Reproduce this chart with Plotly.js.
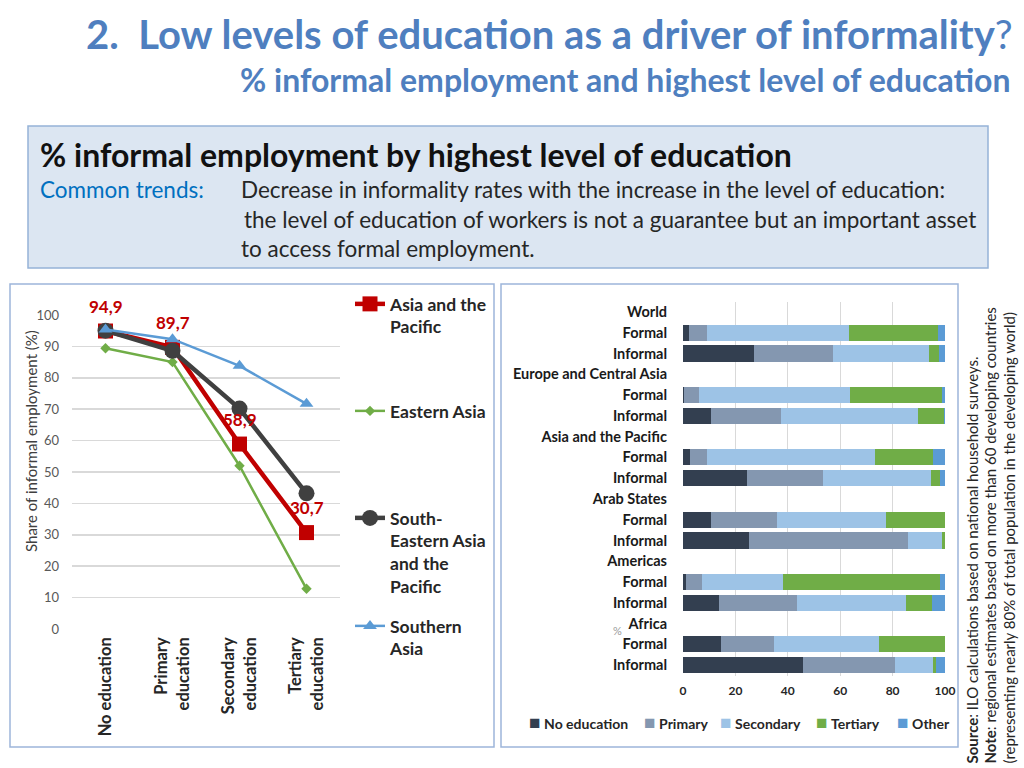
<!DOCTYPE html>
<html>
<head>
<meta charset="utf-8">
<script src="https://cdn.plot.ly/plotly-3.0.1.min.js"></script>
<style>
  body { margin: 0; background: #fff; }
  #slide { width: 1024px; height: 768px; }
</style>
</head>
<body>
<div id="slide"></div>
<script>
// left chart: share of informal employment by education level
var eduLevels = ['No education', 'Primary<br>education', 'Secondary<br>education', 'Tertiary<br>education'];
var asiaPacific = [94.9, 89.7, 58.9, 30.7];
var easternAsia = [89.4, 85.0, 52.0, 12.8];
var southEasternAsia = [95.0, 88.6, 70.2, 43.2];
var southernAsia = [95.4, 92.3, 83.8, 71.7];

// right chart: distribution of workers by education, formal vs informal
var rowLabels = ['World', 'Formal', 'Informal',
  'Europe and Central Asia', 'Formal', 'Informal',
  'Asia and the Pacific', 'Formal', 'Informal',
  'Arab States', 'Formal', 'Informal',
  'Americas', 'Formal', 'Informal',
  'Africa', 'Formal', 'Informal'];
var noEducation = [null, 2.2, 27.2, null, 0.2, 10.8, null, 2.7, 24.4, null, 10.7, 25.2, null, 1.1, 13.7, null, 14.4, 45.8];
var primary     = [null, 6.8, 29.9, null, 5.9, 26.5, null, 6.3, 28.9, null, 25.3, 60.8, null, 6.3, 29.7, null, 20.5, 35.1];
var secondary   = [null, 54.4, 36.8, null, 57.6, 52.3, null, 64.4, 41.4, null, 41.4, 12.9, null, 30.8, 41.6, null, 40.0, 14.6];
var tertiary    = [null, 33.8, 3.8, null, 35.0, 10.0, null, 22.1, 3.4, null, 22.6, 1.1, null, 59.9, 10.2, null, 25.1, 1.1];
var other       = [null, 2.8, 2.3, null, 1.3, 0.4, null, 4.5, 1.9, null, 0, 0, null, 1.9, 4.8, null, 0, 3.4];
var rowIndex = rowLabels.map(function (_, i) { return i; });

var FONT = 'Lato, "Open Sans", sans-serif';
var W = 1024, H = 768;
function px(x) { return x / W; }
function py(y) { return 1 - y / H; }

var lineTraces = [
  {name: 'Asia and the<br>Pacific', y: asiaPacific, color: '#C00000', width: 4.5,
   marker: {symbol: 'square', size: 15}, legend: 'legend'},
  {name: 'Eastern Asia', y: easternAsia, color: '#70AD47', width: 2.5,
   marker: {symbol: 'diamond', size: 8}, legend: 'legend2'},
  {name: 'South-<br>Eastern Asia<br>and the<br>Pacific', y: southEasternAsia, color: '#404040', width: 4.5,
   marker: {symbol: 'circle', size: 16}, legend: 'legend3'},
  {name: 'Southern<br>Asia', y: southernAsia, color: '#5B9BD5', width: 2.5,
   marker: {symbol: 'triangle-up', size: 12}, legend: 'legend4'}
].map(function (s) {
  return {
    type: 'scatter', mode: 'lines+markers', x: eduLevels, y: s.y, name: s.name,
    line: {color: s.color, width: s.width},
    marker: Object.assign({color: s.color}, s.marker),
    cliponaxis: false, xaxis: 'x', yaxis: 'y', legend: s.legend
  };
});

var barSeries = [
  ['No education', noEducation, '#333F50'],
  ['Primary', primary, '#8497B0'],
  ['Secondary', secondary, '#9DC3E6'],
  ['Tertiary', tertiary, '#70AD47'],
  ['Other', other, '#5B9BD5']
];
var barTraces = barSeries.map(function (s) {
  return {
    type: 'bar', orientation: 'h', name: s[0], x: s[1], y: rowIndex,
    marker: {color: s[2]}, xaxis: 'x2', yaxis: 'y2', showlegend: false
  };
});

var legendBase = {
  xanchor: 'left', yanchor: 'top', bgcolor: 'rgba(0,0,0,0)', borderwidth: 0,
  valign: 'top', itemwidth: 30, itemclick: false, itemdoubleclick: false,
  font: {family: FONT, size: 17.5, color: '#262626', weight: 'bold'}
};
function legendAt(y) { return Object.assign({}, legendBase, {x: px(350), y: py(y)}); }

var annotations = [];
function note(x, y, text, opts) {
  annotations.push(Object.assign({
    xref: 'paper', yref: 'paper', x: px(x), y: py(y), text: text, showarrow: false,
    xanchor: 'left', yanchor: 'middle', font: {family: FONT, size: 20, color: '#262626'}
  }, opts || {}));
}

// slide titles
note(1015, 34, '<b>2.&nbsp;&nbsp;Low levels of education as a driver of informality</b>?',
  {xanchor: 'right', font: {family: FONT, size: 40, color: '#4F7FBF'}});
note(1013, 80, '<b>% informal employment and highest level of education</b>',
  {xanchor: 'right', font: {family: FONT, size: 32, color: '#4F7FBF'}});

// text box
note(38, 155, '<b>% informal employment by highest level of education</b>',
  {font: {family: FONT, size: 32, color: '#111'}});
note(38, 189, 'Common trends:', {font: {family: FONT, size: 22.5, color: '#0070C0'}});
note(239, 189, 'Decrease in informality rates with the increase in the level of education:',
  {font: {family: FONT, size: 22.5, color: '#262626'}});
note(242, 219, 'the level of education of workers is not a guarantee but an important asset',
  {font: {family: FONT, size: 22.5, color: '#262626'}});
note(239, 248, 'to access formal employment.',
  {font: {family: FONT, size: 22.5, color: '#262626'}});

// y axis title of the line chart
note(31, 441, 'Share of informal employment (%)',
  {xanchor: 'center', textangle: -90, font: {family: FONT, size: 15, color: '#404040'}});

// data labels for Asia and the Pacific
asiaPacific.forEach(function (v, i) {
  annotations.push({
    xref: 'x', yref: 'y', x: eduLevels[i], y: v, yshift: 25, showarrow: false,
    text: '<b>' + v.toFixed(1).replace('.', ',') + '</b>',
    font: {family: FONT, size: 17, color: '#C00000'}
  });
});

// legend of the bar chart
var barLegendX = [527, 642, 718, 814, 895];
barSeries.forEach(function (s, i) {
  note(barLegendX[i], 721, '<span style="color:' + s[2] + ';font-size:19px">■</span> <b>' + s[0] + '</b>',
    {font: {family: FONT, size: 14, color: '#262626'}});
});

// stray % mark in bar chart
note(617, 630, '%', {xanchor: 'center', font: {family: FONT, size: 11, color: '#9a9a9a'}});

// source and note, rotated
var sourceLines = [
  [971, '<b>Source</b>: ILO calculations based on national household surveys.'],
  [989.5, '<b>Note</b>: regional estimates based on more than 60 developing countries'],
  [1008, '(representing nearly 80% of total population in the developing world)']
];
sourceLines.forEach(function (l) {
  note(l[0], 766, l[1], {xanchor: 'center', yanchor: 'bottom', textangle: -90,
    font: {family: FONT, size: 15, color: '#262626'}});
});

var layout = {
  width: W, height: H,
  margin: {l: 0, r: 0, t: 0, b: 0},
  paper_bgcolor: '#fff', plot_bgcolor: 'rgba(0,0,0,0)',
  font: {family: FONT, color: '#262626'},
  showlegend: true,
  barmode: 'stack', bargap: 0.22,
  hovermode: false,
  xaxis: {
    domain: [px(72), px(340)], anchor: 'y', type: 'category', range: [-0.5, 3.5],
    showgrid: false, showline: false, zeroline: false, ticks: '',
    tickangle: -90, ticklabelstandoff: 4,
    tickfont: {family: FONT, size: 16.5, color: '#262626', weight: 'bold'}
  },
  yaxis: {
    domain: [py(629), py(315)], anchor: 'x', range: [0, 100], dtick: 10,
    showgrid: true, gridcolor: '#D9D9D9', gridwidth: 1.5, zeroline: false, showline: false,
    ticks: '', ticklabelstandoff: 12,
    tickfont: {family: FONT, size: 13, color: '#595959'}
  },
  xaxis2: {
    domain: [px(683), px(945)], anchor: 'y2', range: [0, 100], dtick: 20,
    showgrid: true, gridcolor: '#D9D9D9', zeroline: false, showline: false, ticks: '',
    ticklabelstandoff: 6,
    tickfont: {family: FONT, size: 12, color: '#262626', weight: 'bold'}
  },
  yaxis2: {
    domain: [py(675.5), py(301.5)], anchor: 'x2', range: [17.5, -0.5],
    tickvals: rowIndex, ticktext: rowLabels,
    showgrid: false, zeroline: false, showline: false, ticks: '', ticklabelstandoff: 15,
    tickfont: {family: FONT, size: 14.5, color: '#1a1a1a', weight: 'bold'}
  },
  legend: legendAt(286),
  legend2: legendAt(393),
  legend3: legendAt(500),
  legend4: legendAt(608),
  shapes: [
    {type: 'rect', xref: 'paper', yref: 'paper', x0: px(28), x1: px(988), y0: py(268), y1: py(126),
     fillcolor: '#DCE6F2', line: {color: '#95B3D7', width: 1.5}, layer: 'below'},
    {type: 'rect', xref: 'paper', yref: 'paper', x0: px(10), x1: px(494), y0: py(747), y1: py(284),
     line: {color: '#9DB5DA', width: 1.5}, layer: 'below'},
    {type: 'rect', xref: 'paper', yref: 'paper', x0: px(501), x1: px(958), y0: py(747), y1: py(284),
     line: {color: '#9DB5DA', width: 1.5}, layer: 'below'}
  ],
  annotations: annotations
};

Plotly.newPlot('slide', lineTraces.concat(barTraces), layout, {displayModeBar: false, staticPlot: true});
</script>
</body>
</html>
